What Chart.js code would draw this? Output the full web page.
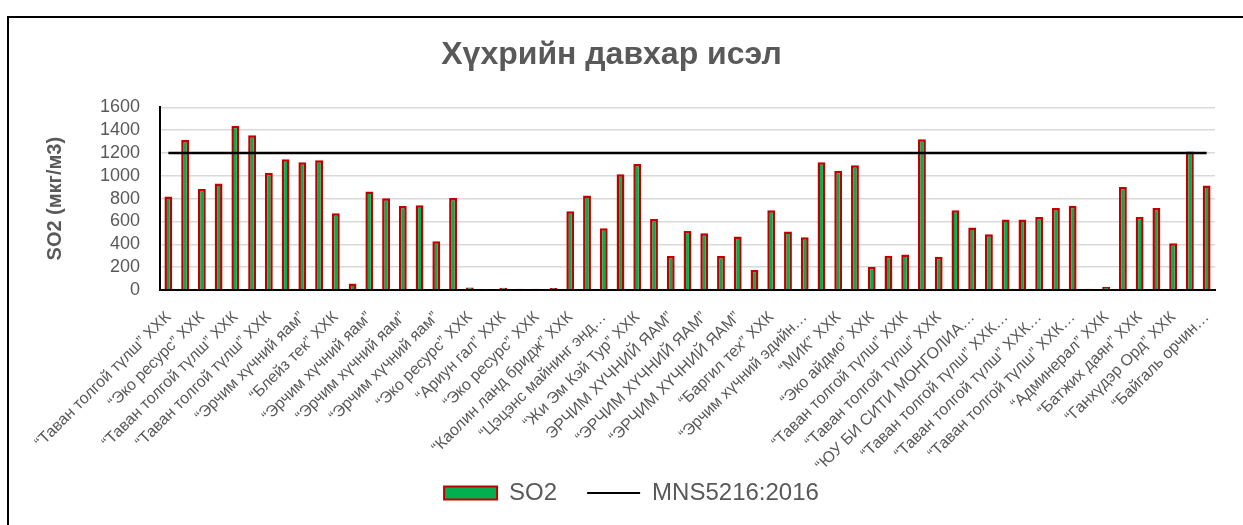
<!DOCTYPE html>
<html>
<head>
<meta charset="utf-8">
<script src="https://cdn.jsdelivr.net/npm/chart.js@4"></script>
<style>
  html, body { margin: 0; padding: 0; background: #fff; overflow: hidden; }
  #frame { position: absolute; left: 7px; top: 16px; width: 1300px; height: 600px; border: 2px solid #000; }
  #so2Chart { position: absolute; left: 0; top: 0; }
</style>
</head>
<body>
<div id="frame"></div>
<canvas id="so2Chart" width="1243" height="525"></canvas>
<script>
// sampling points - Excel only printed every second name, the rest stay blank
const plants = [
  '“Таван толгой түлш” ХХК', '', '“Эко ресурс” ХХК', '', '“Таван толгой түлш” ХХК', '',
  '“Таван толгой түлш” ХХК', '', '“Эрчим хүчний яам”', '', '“Блейз тек” ХХК', '',
  '“Эрчим хүчний яам”', '', '“Эрчим хүчний яам”', '', '“Эрчим хүчний яам”', '',
  '“Эко ресурс” ХХК', '', '“Ариун гал” ХХК', '', '“Эко ресурс” ХХК', '',
  '“Каолин ланд бридж” ХХК', '', '“Цэцэнс майнинг энд…', '', '“Жи Эм Кэй Тур” ХХК', '',
  'ЭРЧИМ ХҮЧНИЙ ЯАМ”', '', '“ЭРЧИМ ХҮЧНИЙ ЯАМ”', '', '“ЭРЧИМ ХҮЧНИЙ ЯАМ”', '',
  '“Баргил тех” ХХК', '', '“Эрчим хүчний эдийн…', '', '“МИК” ХХК', '',
  '“Эко айдмо” ХХК', '', '“Таван толгой түлш” ХХК', '', '“Таван толгой түлш” ХХК', '',
  '“ЮУ БИ СИТИ МОНГОЛИА…', '', '“Таван толгой түлш” ХХК…', '', '“Таван толгой түлш” ХХК…', '',
  '“Таван толгой түлш” ХХК…', '', '“Админерал” ХХК', '', '“Батжих даян” ХХК', '',
  '“Ганхүдэр Орд” ХХК', '', '“Байгаль орчин…'
];

// measured SO2, мкг/м3
const so2Values = [
  820, 1315, 884, 934, 1440, 1356, 1027, 1146, 1120, 1137,
  672, 58, 864, 803, 736, 742, 428, 806, 23, 9,
  20, 10, 12, 17, 690, 829, 541, 1015, 1105, 623,
  297, 518, 497, 297, 468, 175, 698, 512, 462, 1120,
  1044, 1094, 204, 300, 311, 1321, 291, 698, 547, 489,
  617, 617, 640, 718, 739, 12, 29, 902, 640, 718,
  410, 1213, 916
];

// MNS5216:2016 limit, same at every point
const mnsLimit = [
  1200, 1200, 1200, 1200, 1200, 1200, 1200, 1200, 1200, 1200,
  1200, 1200, 1200, 1200, 1200, 1200, 1200, 1200, 1200, 1200,
  1200, 1200, 1200, 1200, 1200, 1200, 1200, 1200, 1200, 1200,
  1200, 1200, 1200, 1200, 1200, 1200, 1200, 1200, 1200, 1200,
  1200, 1200, 1200, 1200, 1200, 1200, 1200, 1200, 1200, 1200,
  1200, 1200, 1200, 1200, 1200, 1200, 1200, 1200, 1200, 1200,
  1200, 1200, 1200
];

const yTicks = [0, 200, 400, 600, 800, 1000, 1200, 1400, 1600];

const grey = '#595959';
const font = 'Liberation Sans, Arial, sans-serif';

// Excel legend sits a bit right of the canvas centre
const legendNudge = {
  id: 'legendNudge',
  afterLayout(chart) {
    chart.legend.left += 20;
    chart.legend.right += 20;
  }
};

document.addEventListener('DOMContentLoaded', () => {
  const ctx = document.getElementById('so2Chart');

  new Chart(ctx, {
    data: {
      labels: plants,
      datasets: [
        {
          type: 'bar',
          label: 'SO2',
          data: so2Values,
          backgroundColor: '#00B050',
          borderColor: '#C00000',
          borderWidth: 2.5,
          barPercentage: 0.47,
          categoryPercentage: 1,
          order: 1
        },
        {
          type: 'line',
          label: 'MNS5216:2016',
          data: mnsLimit,
          borderColor: '#000',
          backgroundColor: '#000',
          borderWidth: 2.5,
          pointRadius: 0,
          fill: false,
          order: 0 // drawn over the bars
        }
      ]
    },
    plugins: [legendNudge],
    options: {
      responsive: false,
      animation: false,
      layout: { padding: { left: 8, top: 16, right: 28, bottom: 10 } },
      plugins: {
        tooltip: { enabled: false },
        title: {
          display: true,
          text: 'Хүхрийн давхар исэл',
          color: grey,
          font: { family: font, size: 32, weight: 'bold' },
          padding: { top: 20, bottom: 33 }
        },
        legend: {
          position: 'bottom',
          labels: {
            color: grey,
            font: { family: font, size: 24 },
            usePointStyle: true,
            pointStyleWidth: 53,
            boxHeight: 13,
            padding: 30,
            sort: (a, b) => a.datasetIndex - b.datasetIndex,
            generateLabels(chart) {
              const items = Chart.defaults.plugins.legend.labels.generateLabels(chart);
              items.forEach(it => {
                if (it.datasetIndex === 0) {
                  it.pointStyle = 'rect';
                  it.fillStyle = '#00B050';
                  it.strokeStyle = '#C00000';
                  it.lineWidth = 2;
                } else {
                  it.pointStyle = 'line';
                  it.strokeStyle = '#000';
                  it.lineWidth = 2;
                }
              });
              return items;
            }
          }
        }
      },
      scales: {
        x: {
          offset: true,
          grid: { display: false },
          border: { display: true, color: '#000', width: 2 },
          ticks: {
            autoSkip: false,
            minRotation: 45,
            maxRotation: 45,
            padding: 10,
            color: grey,
            font: { family: font, size: 16 }
          },
          afterFit(scale) {
            scale.height = 161;
            // long names run down past the axis box, don't cut them off
            scale._computeLabelArea = () => undefined;
          }
        },
        y: {
          min: 0,
          max: 1600,
          afterBuildTicks(scale) { scale.ticks = yTicks.map(v => ({ value: v })); },
          grid: { color: '#D9D9D9', lineWidth: 1.5, drawTicks: false },
          border: { display: true, color: '#000', width: 2 },
          ticks: {
            autoSkip: false,
            padding: 20,
            color: grey,
            font: { family: font, size: 18 },
            callback: v => String(v)
          },
          title: {
            display: true,
            text: 'SO2 (мкг/м3)',
            color: grey,
            font: { family: font, size: 20, weight: 'bold' },
            padding: { top: 35, bottom: 0 }
          },
          afterFit(scale) { scale.width = 152; }
        }
      }
    }
  });
});
</script>
</body>
</html>
